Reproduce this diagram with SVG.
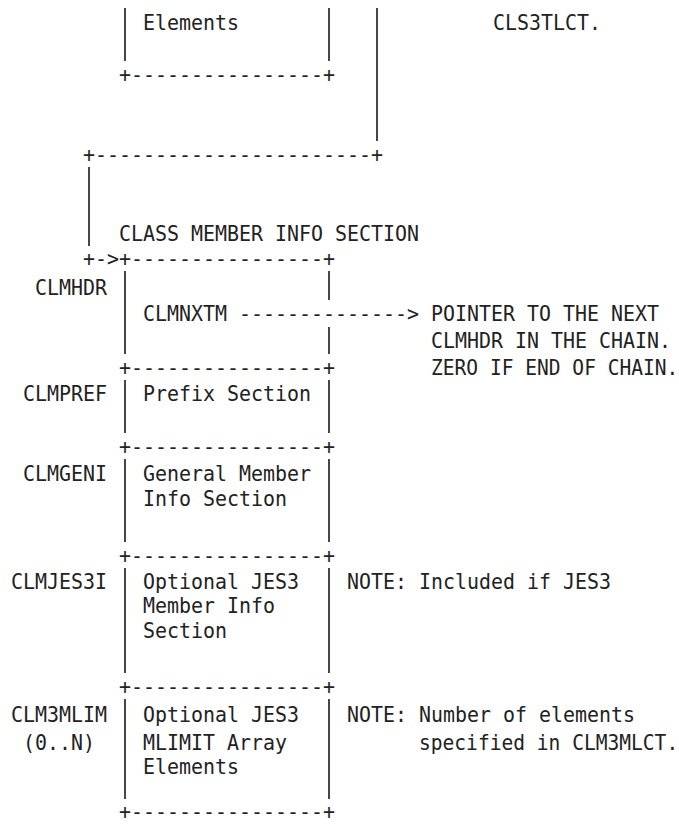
<svg xmlns="http://www.w3.org/2000/svg" width="679" height="825" viewBox="0 0 679 825">
<style>
.t { font-family: "DejaVu Sans Mono", "Liberation Mono", monospace; font-size: 22px; fill: #222; }
.b { stroke: #333; stroke-width: 1.8; fill: none; }
</style>
<rect width="679" height="825" fill="#ffffff"/>
<g id="top-box">
  <text class="t" x="143" y="30" textLength="96" lengthAdjust="spacingAndGlyphs">Elements</text>
  <line class="b" x1="125" y1="8" x2="125" y2="61"/>
  <line class="b" x1="329" y1="8" x2="329" y2="61"/>
  <text class="t" x="119" y="82" textLength="216" lengthAdjust="spacingAndGlyphs">+----------------+</text>
</g>
<g id="top-note">
  <text class="t" transform="translate(493,30) scale(0.906,1)">CLS3TLCT.</text>
</g>
<g id="connectors">
  <line class="b" x1="377" y1="8" x2="377" y2="141"/>
  <text class="t" x="83" y="162" textLength="300" lengthAdjust="spacingAndGlyphs">+-----------------------+</text>
  <line class="b" x1="89" y1="167" x2="89" y2="246"/>
  <text class="t" x="83" y="266" textLength="36" lengthAdjust="spacingAndGlyphs">+-&gt;</text>
  <text class="t" x="239" y="321" textLength="180" lengthAdjust="spacingAndGlyphs">--------------&gt;</text>
</g>
<g id="section-title">
  <text class="t" x="119" y="241" textLength="300" lengthAdjust="spacingAndGlyphs">CLASS MEMBER INFO SECTION</text>
</g>
<g id="clmhdr">
  <text class="t" x="119" y="266" textLength="216" lengthAdjust="spacingAndGlyphs">+----------------+</text>
  <text class="t" x="35" y="295" textLength="72" lengthAdjust="spacingAndGlyphs">CLMHDR</text>
  <text class="t" x="143" y="321" textLength="84" lengthAdjust="spacingAndGlyphs">CLMNXTM</text>
  <line class="b" x1="125" y1="271" x2="125" y2="354"/>
  <line class="b" x1="329" y1="271" x2="329" y2="300"/>
  <line class="b" x1="329" y1="327" x2="329" y2="354"/>
</g>
<g id="clmnxtm-note">
  <text class="t" transform="translate(431,321) scale(0.906,1)">POINTER TO THE NEXT</text>
  <text class="t" transform="translate(431,348) scale(0.906,1)">CLMHDR IN THE CHAIN.</text>
  <text class="t" transform="translate(431,375) scale(0.89,1)">ZERO IF END OF CHAIN.</text>
</g>
<g id="clmpref">
  <text class="t" x="119" y="375" textLength="216" lengthAdjust="spacingAndGlyphs">+----------------+</text>
  <text class="t" x="23" y="401" textLength="84" lengthAdjust="spacingAndGlyphs">CLMPREF</text>
  <text class="t" x="143" y="401" textLength="168" lengthAdjust="spacingAndGlyphs">Prefix Section</text>
  <line class="b" x1="125" y1="380" x2="125" y2="433"/>
  <line class="b" x1="329" y1="380" x2="329" y2="433"/>
</g>
<g id="clmgeni">
  <text class="t" x="119" y="454" textLength="216" lengthAdjust="spacingAndGlyphs">+----------------+</text>
  <text class="t" x="23" y="481" textLength="84" lengthAdjust="spacingAndGlyphs">CLMGENI</text>
  <text class="t" x="143" y="481" textLength="168" lengthAdjust="spacingAndGlyphs">General Member</text>
  <text class="t" x="143" y="506" textLength="144" lengthAdjust="spacingAndGlyphs">Info Section</text>
  <line class="b" x1="125" y1="459" x2="125" y2="542"/>
  <line class="b" x1="329" y1="459" x2="329" y2="542"/>
</g>
<g id="clmjes3i">
  <text class="t" x="119" y="563" textLength="216" lengthAdjust="spacingAndGlyphs">+----------------+</text>
  <text class="t" x="11" y="589" textLength="96" lengthAdjust="spacingAndGlyphs">CLMJES3I</text>
  <text class="t" x="143" y="589" textLength="156" lengthAdjust="spacingAndGlyphs">Optional JES3</text>
  <text class="t" x="143" y="613" textLength="132" lengthAdjust="spacingAndGlyphs">Member Info</text>
  <text class="t" x="143" y="638" textLength="84" lengthAdjust="spacingAndGlyphs">Section</text>
  <line class="b" x1="125" y1="568" x2="125" y2="673"/>
  <line class="b" x1="329" y1="568" x2="329" y2="673"/>
  <text class="t" transform="translate(347,589) scale(0.906,1)">NOTE: Included if JES3</text>
</g>
<g id="clm3mlim">
  <text class="t" x="119" y="694" textLength="216" lengthAdjust="spacingAndGlyphs">+----------------+</text>
  <text class="t" x="11" y="722" textLength="96" lengthAdjust="spacingAndGlyphs">CLM3MLIM</text>
  <text class="t" x="23" y="750" textLength="72" lengthAdjust="spacingAndGlyphs">(0..N)</text>
  <text class="t" x="143" y="722" textLength="156" lengthAdjust="spacingAndGlyphs">Optional JES3</text>
  <text class="t" x="143" y="750" textLength="144" lengthAdjust="spacingAndGlyphs">MLIMIT Array</text>
  <text class="t" x="143" y="774" textLength="96" lengthAdjust="spacingAndGlyphs">Elements</text>
  <line class="b" x1="125" y1="699" x2="125" y2="799"/>
  <line class="b" x1="329" y1="699" x2="329" y2="799"/>
  <text class="t" x="119" y="819" textLength="216" lengthAdjust="spacingAndGlyphs">+----------------+</text>
  <text class="t" transform="translate(347,722) scale(0.906,1)">NOTE: Number of elements</text>
  <text class="t" transform="translate(419,750) scale(0.89,1)">specified in CLM3MLCT.</text>
</g>
</svg>
